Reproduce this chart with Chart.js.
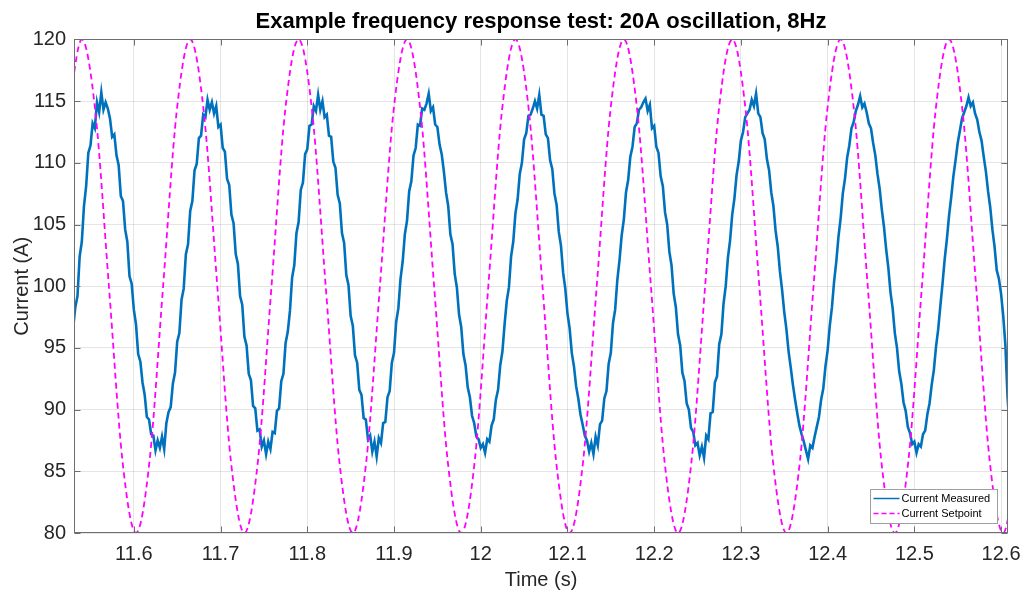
<!DOCTYPE html>
<html>
<head>
<meta charset="utf-8">
<script src="https://cdn.jsdelivr.net/npm/chart.js@4.4.1/dist/chart.umd.min.js"></script>
<style>
  html, body { margin: 0; padding: 0; background: #fff; }
</style>
</head>
<body>
<canvas id="responseChart" width="1024" height="592"></canvas>
<script>
// ---- data ----
const chartTitle = 'Example frequency response test: 20A oscillation, 8Hz';
const seriesNames = ['Current Measured', 'Current Setpoint'];

const xTickValues = [11.6, 11.7, 11.8, 11.9, 12, 12.1, 12.2, 12.3, 12.4, 12.5, 12.6];
const xTickLabels = ['11.6', '11.7', '11.8', '11.9', '12', '12.1', '12.2', '12.3', '12.4', '12.5', '12.6'];
const yTickValues = [80, 85, 90, 95, 100, 105, 110, 115, 120];
const yTickLabels = ['80', '85', '90', '95', '100', '105', '110', '115', '120'];

// setpoint: sampled every 1/8 of a period
const setpointTimes = [
  11.52438, 11.54000, 11.55563, 11.57125, 11.58688, 11.60250, 11.61813, 11.63375,
  11.64938, 11.66500, 11.68063, 11.69625, 11.71188, 11.72750, 11.74313, 11.75875,
  11.77438, 11.79000, 11.80563, 11.82125, 11.83688, 11.85250, 11.86813, 11.88375,
  11.89938, 11.91500, 11.93063, 11.94625, 11.96188, 11.97750, 11.99313, 12.00875,
  12.02438, 12.04000, 12.05563, 12.07125, 12.08688, 12.10250, 12.11813, 12.13375,
  12.14938, 12.16500, 12.18063, 12.19625, 12.21188, 12.22750, 12.24313, 12.25875,
  12.27438, 12.29000, 12.30563, 12.32125, 12.33688, 12.35250, 12.36813, 12.38375,
  12.39938, 12.41500, 12.43063, 12.44625, 12.46188, 12.47750, 12.49313, 12.50875,
  12.52438, 12.54000, 12.55563, 12.57125, 12.58688, 12.60250, 12.61813
];
const setpointValues = [
  114.14, 120, 114.14, 100, 85.86, 80, 85.86, 100,
  114.14, 120, 114.14, 100, 85.86, 80, 85.86, 100,
  114.14, 120, 114.14, 100, 85.86, 80, 85.86, 100,
  114.14, 120, 114.14, 100, 85.86, 80, 85.86, 100,
  114.14, 120, 114.14, 100, 85.86, 80, 85.86, 100,
  114.14, 120, 114.14, 100, 85.86, 80, 85.86, 100,
  114.14, 120, 114.14, 100, 85.86, 80, 85.86, 100,
  114.14, 120, 114.14, 100, 85.86, 80, 85.86, 100,
  114.14, 120, 114.14, 100, 85.86, 80, 85.86
];

// measured current: one sample every 2.5 ms starting at 11.530 s
const measuredStart = 11.530;
const measuredStep = 0.0025;
const measuredValues = [
  // 11.530
  96.6, 98.3, 99.2, 102.4, 103.6, 106.5, 108.1, 110.8, 111.4, 113.2, 112.8, 114.9, 114.1, 115.7, 114.3, 114.9, 114.4,
  113.6, 112.1, 112.3, 110.6, 109.8, 107.3, 106.9, 104.6, 103.6, 100.8, 100.2, 98.1, 96.9, 94.5, 93.9, 92.2, 91.2,
  89.4, 89.2, 88.0, 87.9, 86.7, 87.5, 86.9, 87.8, 86.8, 88.9, 89.8, 90.2, 92.1, 93.0, 95.5, 96.2,
  // 11.655
  98.9, 99.8, 102.6, 103.4, 106.1, 106.9, 109.4, 109.9, 112.0, 112.2, 113.9, 113.7, 115.1, 114.3, 114.9, 114.0, 114.6,
  112.9, 113.1, 111.2, 110.9, 108.7, 108.2, 105.8, 105.1, 102.6, 101.8, 99.2, 98.5, 95.9, 95.2, 92.9, 92.4, 90.3,
  90.1, 88.3, 88.4, 87.0, 87.5, 86.4, 87.4, 86.8, 88.2, 88.1, 89.9, 90.1, 92.3, 92.9, 95.4, 96.3,
  // 11.780
  98.0, 100.7, 101.7, 104.3, 105.2, 107.8, 108.4, 110.7, 111.1, 113.0, 113.1, 114.6, 114.2, 115.5, 114.3, 115.0, 113.7,
  113.9, 112.2, 112.1, 110.1, 109.6, 107.4, 106.7, 104.3, 103.5, 100.9, 100.1, 97.6, 96.8, 94.4, 93.8, 91.6, 91.2,
  89.3, 89.2, 87.6, 87.9, 86.6, 87.4, 86.2, 87.7, 87.3, 88.9, 89.0, 91.0, 91.5, 93.8, 94.6, 97.1,
  // 11.905
  98.2, 100.6, 102.0, 104.2, 105.3, 107.7, 108.5, 110.6, 111.2, 113.1, 113.0, 114.4, 114.3, 114.8, 115.6, 114.2, 114.5,
  113.1, 112.9, 111.5, 110.7, 109.3, 107.6, 106.5, 104.2, 103.4, 101.0, 99.9, 97.7, 96.7, 94.5, 93.6, 91.8, 91.0,
  89.5, 88.9, 87.8, 87.6, 86.9, 87.2, 86.5, 87.6, 87.4, 88.7, 89.2, 90.8, 91.6, 93.6, 94.7, 96.9,
  // 12.030
  98.8, 99.9, 102.4, 103.6, 105.9, 107.0, 109.1, 110.0, 111.9, 112.4, 113.8, 113.9, 114.4, 115.0, 114.4, 115.5, 113.9,
  113.8, 112.3, 112.0, 110.2, 109.5, 107.5, 106.6, 104.4, 103.3, 101.1, 99.8, 97.8, 96.6, 94.6, 93.5, 91.9, 90.9,
  89.6, 88.8, 87.9, 87.5, 86.6, 87.3, 86.4, 87.8, 87.1, 88.8, 89.1, 90.9, 91.5, 93.7, 94.6, 97.0,
  // 12.155
  98.1, 100.5, 102.1, 104.1, 105.4, 107.6, 108.6, 110.5, 111.3, 112.9, 113.2, 114.3, 114.5, 114.9, 115.2, 114.2, 114.7,
  112.8, 113.0, 111.3, 110.8, 108.9, 108.1, 106.0, 105.0, 102.8, 101.7, 99.4, 98.3, 96.1, 95.2, 93.0, 92.3, 90.5,
  90.0, 88.5, 88.2, 87.1, 87.3, 86.3, 87.0, 86.1, 87.9, 87.6, 89.7, 89.8, 92.2, 92.7, 95.3, 96.1,
  // 12.280
  98.6, 100.0, 102.3, 103.7, 105.8, 107.1, 109.0, 110.1, 111.8, 112.5, 113.7, 114.0, 114.3, 115.1, 114.6, 115.6, 114.0,
  113.7, 112.4, 111.9, 110.3, 109.4, 107.6, 106.5, 104.5, 103.2, 101.2, 99.7, 97.9, 96.5, 94.7, 93.4, 92.0, 90.8,
  89.7, 88.7, 88.0, 87.4, 86.7, 86.0, 87.1, 86.9, 87.8, 88.6, 89.4, 90.8, 91.7, 93.5, 94.8, 96.8,
  // 12.405
  98.3, 100.4, 102.0, 104.0, 105.5, 107.5, 108.7, 110.4, 111.4, 112.8, 113.3, 114.2, 114.7, 115.4, 114.5, 114.8, 114.1,
  113.2, 112.8, 111.6, 110.6, 109.1, 107.9, 106.2, 104.8, 103.0, 101.5, 99.5, 98.2, 96.2, 95.0, 93.1, 92.1, 90.6,
  89.9, 88.6, 88.1, 87.2, 87.4, 86.5, 87.2, 87.0, 88.0, 88.3, 89.6, 90.5, 92.0, 93.2, 95.1, 96.5,
  // 12.530
  98.4, 100.2, 102.2, 103.8, 105.7, 107.2, 108.9, 110.2, 111.6, 112.6, 113.6, 114.1, 114.6, 115.3, 114.6, 114.9, 114.0,
  113.5, 112.5, 111.8, 110.5, 109.3, 107.7, 106.4, 104.6, 103.2, 101.3, 100.6, 99.4, 97.6, 95.2, 91.0, 88.4
];

const xMin = 11.531, xMax = 12.608;
const yMin = 80, yMax = 120;

// ---- styling ----
const fontFamily = "'Liberation Sans', Arial, Helvetica, sans-serif";
const axisColor = '#262626';
const boxColor = '#6e6e6e';
const gridColor = 'rgba(38, 38, 38, 0.12)';
const measuredColor = '#0072BD';
const setpointColor = '#FF00FF';

const measuredPoints = measuredValues.map((v, i) => ({ x: measuredStart + i * measuredStep, y: v }));
const setpointPoints = setpointTimes.map((t, i) => ({ x: t, y: setpointValues[i] }));

// box around the axes with inward ticks, like the original
const axesBox = {
  id: 'axesBox',
  afterDatasetsDraw(chart) {
    const { ctx, chartArea: a, scales } = chart;
    const L = Math.round(a.left) + 0.5, R = Math.round(a.right) - 0.5;
    const T = Math.round(a.top) + 0.5, B = Math.round(a.bottom) - 0.5;
    ctx.save();
    ctx.strokeStyle = boxColor;
    ctx.lineWidth = 1;
    ctx.strokeRect(L, T, R - L, B - T);
    ctx.beginPath();
    xTickValues.forEach(v => {
      const px = Math.round(scales.x.getPixelForValue(v)) + 0.5;
      ctx.moveTo(px, B); ctx.lineTo(px, B - 6);
      ctx.moveTo(px, T); ctx.lineTo(px, T + 6);
    });
    yTickValues.forEach(v => {
      const py = Math.round(scales.y.getPixelForValue(v)) + 0.5;
      ctx.moveTo(L, py); ctx.lineTo(L + 6, py);
      ctx.moveTo(R, py); ctx.lineTo(R - 6, py);
    });
    ctx.stroke();
    ctx.restore();
  }
};

// legend box in the lower right corner of the plot
const cornerLegend = {
  id: 'cornerLegend',
  afterDraw(chart) {
    const { ctx, chartArea: a } = chart;
    const w = 127, h = 34;
    const x0 = Math.round(a.right - 11 - w) + 0.5;
    const y0 = Math.round(a.bottom - 10 - h) + 0.5;
    ctx.save();
    ctx.fillStyle = '#fff';
    ctx.fillRect(x0, y0, w, h);
    ctx.strokeStyle = '#a0a0a0';
    ctx.lineWidth = 1;
    ctx.strokeRect(x0, y0, w, h);
    const rows = [
      { label: seriesNames[0], color: measuredColor, dash: [] },
      { label: seriesNames[1], color: setpointColor, dash: [5, 3] }
    ];
    ctx.font = '11px ' + fontFamily;
    ctx.textBaseline = 'middle';
    rows.forEach((r, i) => {
      const y = y0 + 9 + i * 15;
      ctx.strokeStyle = r.color;
      ctx.lineWidth = 1.5;
      ctx.setLineDash(r.dash);
      ctx.beginPath();
      ctx.moveTo(x0 + 3, y);
      ctx.lineTo(x0 + 29, y);
      ctx.stroke();
      ctx.setLineDash([]);
      ctx.fillStyle = '#000';
      ctx.fillText(r.label, x0 + 31, y);
    });
    ctx.restore();
  }
};

const ctx = document.getElementById('responseChart').getContext('2d');
const responseChart = new Chart(ctx, {
  type: 'line',
  data: {
    datasets: [
      {
        label: seriesNames[0],
        data: measuredPoints,
        borderColor: measuredColor,
        borderWidth: 2.6,
        pointRadius: 0,
        tension: 0,
        fill: false,
        order: 1
      },
      {
        label: seriesNames[1],
        data: setpointPoints,
        borderColor: setpointColor,
        borderWidth: 1.8,
        borderDash: [6, 4],
        pointRadius: 0,
        cubicInterpolationMode: 'monotone',
        fill: false,
        order: 0
      }
    ]
  },
  options: {
    responsive: false,
    animation: false,
    devicePixelRatio: 1,
    layout: { padding: { left: 0, right: 16, top: 0, bottom: 0 } },
    plugins: {
      legend: { display: false },
      tooltip: { enabled: false },
      title: {
        display: true,
        fullSize: false,
        text: chartTitle,
        color: '#000',
        font: { family: fontFamily, size: 22, weight: 'bold' },
        padding: { top: 9, bottom: 4 }
      }
    },
    scales: {
      x: {
        type: 'linear',
        min: xMin,
        max: xMax,
        afterBuildTicks: axis => { axis.ticks = xTickValues.map(v => ({ value: v })); },
        afterFit: axis => { axis.height = 59; axis.paddingLeft = 0; axis.paddingRight = 0; },
        ticks: {
          color: axisColor,
          font: { family: fontFamily, size: 20 },
          padding: 9,
          maxRotation: 0,
          autoSkip: false,
          callback: (v, i) => xTickLabels[i]
        },
        grid: { color: gridColor, drawTicks: false },
        border: { display: false },
        title: {
          display: true,
          text: 'Time (s)',
          color: axisColor,
          font: { family: fontFamily, size: 20 },
          padding: { top: 0, bottom: 0 }
        }
      },
      y: {
        type: 'linear',
        min: yMin,
        max: yMax,
        afterBuildTicks: axis => { axis.ticks = yTickValues.map(v => ({ value: v })); },
        afterFit: axis => { axis.width = 74; },
        ticks: {
          color: axisColor,
          font: { family: fontFamily, size: 20 },
          padding: 8,
          autoSkip: false,
          callback: (v, i) => yTickLabels[i]
        },
        grid: { color: gridColor, drawTicks: false },
        border: { display: false },
        title: {
          display: true,
          text: 'Current (A)',
          color: axisColor,
          font: { family: fontFamily, size: 20 },
          padding: { top: 10, bottom: 0 }
        }
      }
    }
  },
  plugins: [axesBox, cornerLegend]
});
</script>
</body>
</html>
